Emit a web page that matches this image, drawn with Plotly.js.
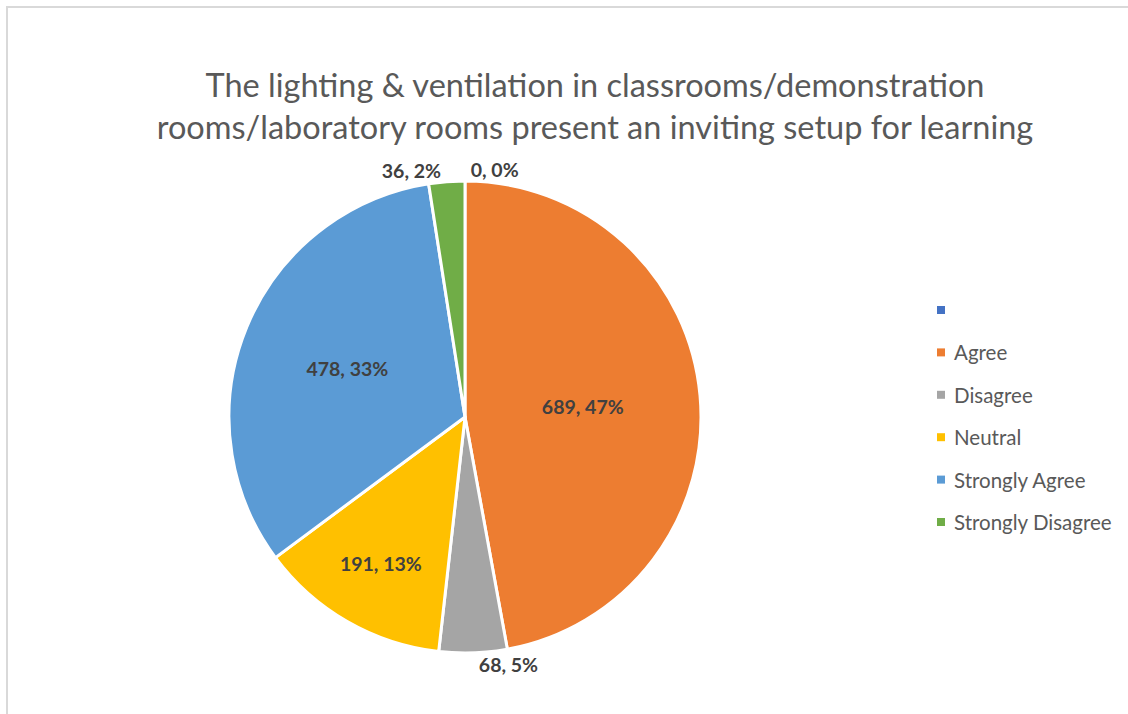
<!DOCTYPE html>
<html>
<head>
<meta charset="utf-8">
<script src="https://cdn.plot.ly/plotly-3.0.1.min.js"></script>
<style>
html,body{margin:0;padding:0;background:#fff;overflow:hidden;}
#wrap{position:relative;width:1128px;height:714px;}
#chart{position:absolute;left:0;top:0;width:1128px;height:714px;}
#frame{position:absolute;left:6px;top:6px;width:1140px;height:730px;border:2px solid #d9d9d9;pointer-events:none;}
</style>
</head>
<body>
<div id="wrap"><div id="chart"></div><div id="frame"></div></div>
<script>
// Data
const categories = [" ", "Agree", "Disagree", "Neutral", "Strongly Agree", "Strongly Disagree"];
const counts = [0, 689, 68, 191, 478, 36];
const colors = ["#4472C4", "#ED7D31", "#A5A5A5", "#FFC000", "#5B9BD5", "#70AD47"];
const textPositions = ["outside", "inside", "outside", "inside", "inside", "outside"];
const titleText = "The lighting &amp; ventilation in classrooms/demonstration<br>rooms/laboratory rooms present an inviting setup for learning";

const W = 1128, H = 714;
const px = x => x / W, py = y => 1 - y / H;
const FONT = "Lato, 'Open Sans', sans-serif";

const trace = {
  type: "pie",
  labels: categories,
  values: counts,
  sort: false,
  direction: "clockwise",
  rotation: 0,
  marker: {colors: colors, line: {color: "#ffffff", width: 3}},
  texttemplate: "%{value}, %{percent:.0%}",
  textposition: textPositions,
  insidetextorientation: "horizontal",
  textfont: {family: FONT, size: 19.5, color: "#404040", weight: "bold"},
  outsidetextfont: {family: FONT, size: 19.5, color: "#404040", weight: "bold"},
  domain: {x: [px(229), px(701)], y: [py(653), py(181)]},
  showlegend: false,
  hoverinfo: "label+value+percent"
};

// Custom legend built from the category/colour arrays
const legendTop = 310, legendStep = 42.4, legendX = 941;
const shapes = [], annotations = [];
categories.forEach((c, i) => {
  const yc = legendTop + i * legendStep;
  shapes.push({type: "rect", xref: "paper", yref: "paper",
    x0: px(legendX - 4), x1: px(legendX + 4), y0: py(yc + 4), y1: py(yc - 4),
    fillcolor: colors[i], line: {width: 0}});
  annotations.push({xref: "paper", yref: "paper", x: px(legendX + 11), y: py(yc),
    xanchor: "left", yanchor: "middle", showarrow: false, text: c.trim(),
    font: {family: FONT, size: 20.5, color: "#595959"}});
});

const layout = {
  width: W, height: H,
  margin: {l: 0, r: 0, t: 0, b: 0},
  paper_bgcolor: "#ffffff",
  title: {text: titleText, x: px(595), xanchor: "center", y: py(97), yanchor: "middle",
    font: {family: FONT, size: 32.5, color: "#595959"}},
  shapes: shapes,
  annotations: annotations,
  showlegend: false
};

Plotly.newPlot("chart", [trace], layout, {displayModeBar: false, staticPlot: true});
</script>
</body>
</html>
